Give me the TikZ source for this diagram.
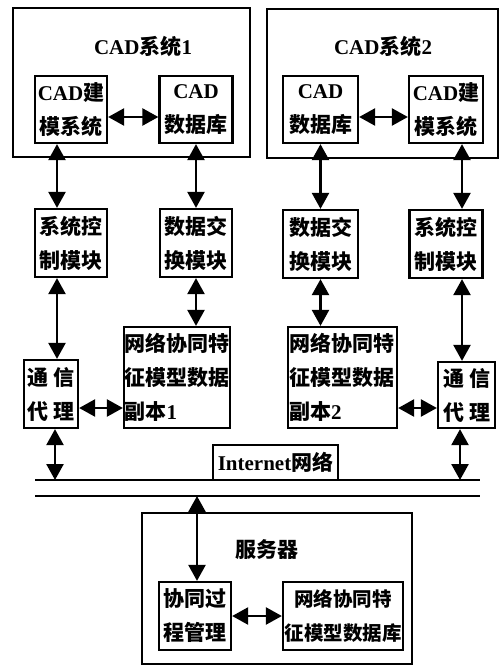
\documentclass[tikz,border=0pt]{standalone}
\usepackage{fontspec}
\setmainfont{Liberation Serif}
\newfontfamily\cjk{Noto Sans CJK SC}
\usetikzlibrary{arrows.meta,calc}
\newcommand\zh[1]{{\cjk #1}}
\begin{document}
\begin{tikzpicture}[x=1pt,y=-1pt,
  font=\fontsize{21}{34}\selectfont\bfseries,
  frame/.style={draw, line width=1.8pt, inner sep=0pt},
  blk/.style={draw, line width=2.3pt, inner sep=0.5pt, align=center},
  lbl/.style={inner sep=0pt},
  dbl/.style={line width=2.5pt, {Triangle[width=17pt,length=16pt]}-{Triangle[width=17pt,length=16pt]}},
  net/.style={line width=1.6pt}]
\useasboundingbox (0,0) rectangle (502,666);

% CAD system 1
\node[frame, minimum width=237pt, minimum height=149pt] (sys1) at (131.5,82.5) {};
\node[lbl] (t1) at (143,47) {CAD\zh{系统}1};
\node[blk, minimum width=72pt, minimum height=67pt] (cadm1) at (71,109.5) {CAD\zh{建}\\\zh{模系统}};
\node[blk, minimum width=73pt, minimum height=67pt] (cadd1) at (196,109.5) {CAD\\\zh{数据库}};
\node[blk, minimum width=72pt, minimum height=68pt] (ctrl1) at (71,243) {\zh{系统控}\\\zh{制模块}};
\node[blk, minimum width=72pt, minimum height=68pt] (xchg1) at (196,243) {\zh{数据交}\\\zh{换模块}};
\node[blk, minimum width=106pt, minimum height=101pt, align=left, text width=105pt] (rep1) at (177,377.5) {\zh{网络协同特}\\\zh{征模型数据}\\\zh{副本}1};
\node[blk, minimum width=54pt, minimum height=68pt] (comm1) at (51,394) {\zh{通\hspace{5pt}信}\\\zh{代\hspace{5pt}理}};

% CAD system 2
\node[frame, minimum width=231pt, minimum height=149pt] (sys2) at (382.5,83.5) {};
\node[lbl] (t2) at (383,47) {CAD\zh{系统}2};
\node[blk, minimum width=75pt, minimum height=67pt] (cadd2) at (320.5,109.5) {CAD\\\zh{数据库}};
\node[blk, minimum width=74pt, minimum height=67pt] (cadm2) at (446,109.5) {CAD\zh{建}\\\zh{模系统}};
\node[blk, minimum width=75pt, minimum height=68pt] (xchg2) at (320.5,244) {\zh{数据交}\\\zh{换模块}};
\node[blk, minimum width=73pt, minimum height=68pt] (ctrl2) at (446,244) {\zh{系统控}\\\zh{制模块}};
\node[blk, minimum width=109pt, minimum height=101pt, align=left, text width=107pt] (rep2) at (342.5,377.5) {\zh{网络协同特}\\\zh{征模型数据}\\\zh{副本}2};
\node[blk, minimum width=57pt, minimum height=66pt] (comm2) at (466.5,395) {\zh{通\hspace{5pt}信}\\\zh{代\hspace{5pt}理}};

% Internet
\coordinate (L1a) at (35,480);
\coordinate (L1b) at (480,480);
\coordinate (L2a) at (35,496);
\coordinate (L2b) at (480,496);
\coordinate (c1) at (55,480);
\coordinate (c2) at (460,480);
\coordinate (c3) at (197,496);
\node[blk, minimum width=125pt, minimum height=35pt] (inet) at (275.5,462.5) {Internet\zh{网络}};
\draw[net] (L1a) -- (L1b);
\draw[net] (L2a) -- (L2b);

% Server
\node[frame, minimum width=270pt, minimum height=151pt] (srv) at (277,588.5) {};
\node[lbl] (t3) at (267,550) {\zh{服务器}};
\node[blk, minimum width=72pt, minimum height=68pt] (proc) at (195,616) {\zh{协同过}\\\zh{程管理}};
\node[blk, minimum width=120pt, minimum height=68pt, font=\fontsize{19.5}{34}\selectfont\bfseries] (db) at (343,616) {\zh{网络协同特}\\\zh{征模型数据库}};

% connectors system 1
\draw[dbl] ($(cadm1.east)+(0,7.5)$) -- ($(cadd1.west)+(0,7.5)$);
\draw[dbl] ($(cadm1.south)+(-14,0)$) -- ($(ctrl1.north)+(-14,0)$);
\draw[dbl] (cadd1.south) -- (xchg1.north);
\draw[dbl] (xchg1.south) -- (xchg1.south |- rep1.north);
\draw[dbl] ($(ctrl1.south)+(-14,0)$) -- ($(comm1.north)+(6,0)$);
\draw[dbl] ($(comm1.east)+(0,14)$) -- ($(rep1.west)+(0,30.5)$);
\draw[dbl] (comm1.south -| c1) -- (c1);

% connectors system 2
\draw[dbl] ($(cadd2.east)+(0,7.5)$) -- ($(cadm2.west)+(0,7.5)$);
\draw[dbl] (cadd2.south) -- (xchg2.north);
\draw[dbl] ($(cadm2.south)+(16,0)$) -- ($(ctrl2.north)+(16,0)$);
\draw[dbl] (xchg2.south) -- (xchg2.south |- rep2.north);
\draw[dbl] ($(ctrl2.south)+(16,0)$) -- ($(comm2.north)+(-4.5,0)$);
\draw[dbl] ($(rep2.east)+(0,30.5)$) -- ($(comm2.west)+(0,13)$);
\draw[dbl] (comm2.south -| c2) -- (c2);

% server connectors
\draw[dbl] (c3) -- (c3 |- proc.north);
\draw[dbl] (proc.east) -- (db.west);
\end{tikzpicture}
\end{document}
